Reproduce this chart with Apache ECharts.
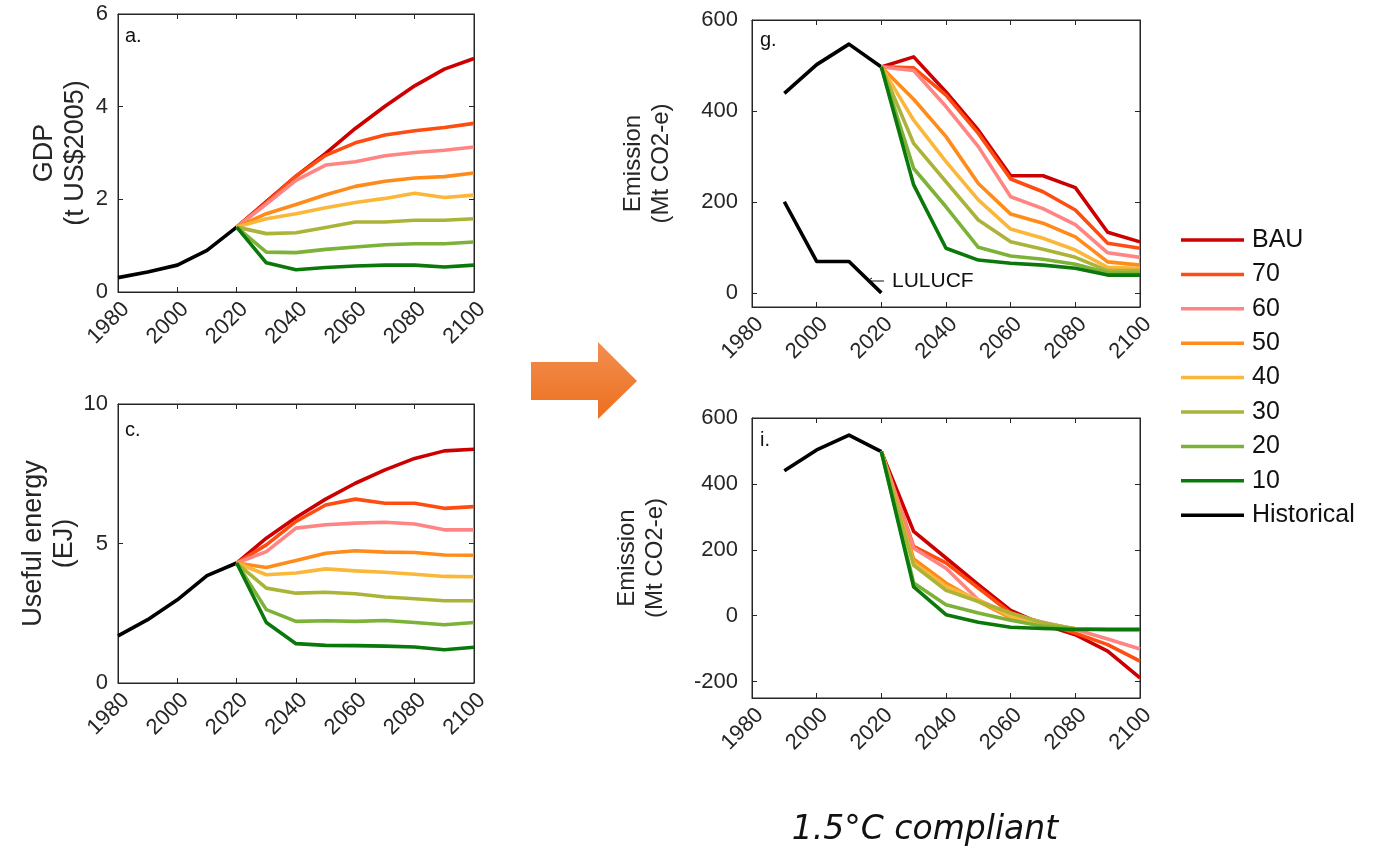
<!DOCTYPE html>
<html><head><meta charset="utf-8">
<script src="https://cdn.jsdelivr.net/npm/echarts@6/dist/echarts.min.js"></script>
<style>html,body{margin:0;padding:0;background:#fff}#c{width:1375px;height:853px}</style>
</head><body><div id="c"></div>
<script>
// ---------- DATA ----------
const yearsHistAC = [1980, 1990, 2000, 2010, 2020];
const yearsHistGI = [1990, 2000, 2010, 2020];
const yearsScen = [2020, 2030, 2040, 2050, 2060, 2070, 2080, 2090, 2100];
const scenarioNames = ['BAU', '70', '60', '50', '40', '30', '20', '10'];
const xTicks = [1980, 2000, 2020, 2040, 2060, 2080, 2100];

// a. GDP (t US$2005)
const gdpHist = [0.31, 0.43, 0.58, 0.90, 1.40];
const gdpBAU = [1.40, 1.95, 2.50, 2.99, 3.53, 4.01, 4.45, 4.81, 5.04];
const gdp70  = [1.40, 1.93, 2.50, 2.95, 3.22, 3.39, 3.48, 3.55, 3.64];
const gdp60  = [1.40, 1.90, 2.41, 2.74, 2.81, 2.94, 3.01, 3.06, 3.13];
const gdp50  = [1.40, 1.69, 1.89, 2.10, 2.28, 2.39, 2.46, 2.49, 2.57];
const gdp40  = [1.40, 1.58, 1.69, 1.82, 1.93, 2.02, 2.13, 2.04, 2.09];
const gdp30  = [1.40, 1.26, 1.28, 1.39, 1.51, 1.51, 1.55, 1.55, 1.58];
const gdp20  = [1.40, 0.86, 0.85, 0.92, 0.97, 1.02, 1.04, 1.04, 1.08];
const gdp10  = [1.40, 0.63, 0.48, 0.53, 0.56, 0.58, 0.58, 0.54, 0.58];

// c. Useful energy (EJ)
const ueHist = [1.69, 2.27, 2.98, 3.85, 4.30];
const ueBAU = [4.30, 5.19, 5.93, 6.59, 7.16, 7.64, 8.05, 8.32, 8.38];
const ue70  = [4.30, 4.95, 5.79, 6.38, 6.59, 6.44, 6.44, 6.26, 6.32];
const ue60  = [4.30, 4.71, 5.55, 5.67, 5.73, 5.76, 5.70, 5.49, 5.49];
const ue50  = [4.30, 4.14, 4.39, 4.65, 4.74, 4.69, 4.68, 4.59, 4.58];
const ue40  = [4.30, 3.88, 3.94, 4.09, 4.02, 3.97, 3.90, 3.82, 3.81];
const ue30  = [4.30, 3.40, 3.22, 3.25, 3.20, 3.08, 3.02, 2.95, 2.95];
const ue20  = [4.30, 2.63, 2.21, 2.23, 2.21, 2.24, 2.17, 2.09, 2.17];
const ue10  = [4.30, 2.17, 1.41, 1.35, 1.34, 1.32, 1.29, 1.19, 1.28];

// g. Emission (Mt CO2-e)
const emgHist = [439, 502, 547, 497];
const emgLULUCF = [201, 70, 70, 1];
const emgBAU = [497, 519, 442, 358, 258, 258, 232, 134, 113];
const emg70  = [497, 495, 435, 351, 251, 223, 183, 110, 99];
const emg60  = [497, 489, 410, 322, 212, 186, 151, 89, 79];
const emg50  = [497, 426, 344, 241, 174, 154, 124, 69, 62];
const emg40  = [497, 380, 289, 205, 141, 121, 95, 57, 55];
const emg30  = [497, 329, 245, 161, 113, 97, 79, 50, 50];
const emg20  = [497, 274, 190, 101, 82, 75, 64, 45, 44];
const emg10  = [497, 238, 99, 73, 66, 62, 55, 40, 40];

// i. Emission (Mt CO2-e)
const emiHist = [440, 503, 548, 498];
const emiBAU = [498, 256, 175, 94, 16, -27, -58, -108, -189];
const emi70  = [498, 210, 160, 84, 8, -22, -53, -88, -138];
const emi60  = [498, 205, 144, 48, 3, -20, -42, -71, -101];
const emi50  = [498, 172, 99, 43, -7, -27, -40, -42, -42];
const emi40  = [498, 160, 89, 48, -2, -25, -40, -42, -42];
const emi30  = [498, 153, 77, 43, 8, -22, -40, -42, -42];
const emi20  = [498, 99, 33, 8, -14, -32, -40, -42, -42];
const emi10  = [498, 87, 3, -20, -35, -39, -42, -42, -42];

const yTicksA = [0, 2, 4, 6];
const yTicksC = [0, 5, 10];
const yTicksG = [0, 200, 400, 600];
const yTicksI = [-200, 0, 200, 400, 600];

// ---------- STYLE ----------
const colors = {
  'BAU': '#CC0000', '70': '#FF4D12', '60': '#FF8585', '50': '#FF8C1A',
  '40': '#FBB73A', '30': '#ABB438', '20': '#7DB238', '10': '#0A780A', 'Historical': '#000000'
};
const axisColor = '#262626';
const FONT = 'Liberation Sans, Arial, sans-serif';

const grids = [
  { left: 118, top: 14, width: 356, height: 278 },
  { left: 118, top: 404, width: 356, height: 279 },
  { left: 752, top: 20, width: 388, height: 287 },
  { left: 752, top: 418, width: 388, height: 280 }
];
const yCfg = [
  { min: 0, max: 6, ticks: yTicksA, name: 'GDP\n(t US$2005)', nameGap: 27, nameSize: 27, margin: 10 },
  { min: 0, max: 10, ticks: yTicksC, name: 'Useful energy\n(EJ)', nameGap: 31, nameSize: 27, margin: 10 },
  { min: -30, max: 600, ticks: yTicksG, name: 'Emission\n(Mt CO2-e)', nameGap: 77, nameSize: 24, margin: 14 },
  { min: -250, max: 600, ticks: yTicksI, name: 'Emission\n(Mt CO2-e)', nameGap: 83, nameSize: 24, margin: 14 }
];

const xAxis = [], yAxis = [];
grids.forEach((g, i) => {
  xAxis.push({
    type: 'value', gridIndex: i, position: 'bottom', min: 1980, max: 2100, interval: 20,
    axisLine: { show: true, onZero: false, lineStyle: { color: axisColor, width: 1 } },
    axisTick: { show: true, inside: true, length: 5, lineStyle: { color: axisColor } },
    axisLabel: { rotate: 45, fontSize: 22, color: axisColor, fontFamily: FONT, margin: 6, verticalAlign: 'top',
      showMinLabel: true, showMaxLabel: true, formatter: v => String(v) },
    splitLine: { show: false }
  });
  xAxis.push({
    type: 'value', gridIndex: i, position: 'top', min: 1980, max: 2100, interval: 20,
    axisLine: { show: true, onZero: false, lineStyle: { color: axisColor, width: 1 } },
    axisTick: { show: true, inside: true, length: 5, lineStyle: { color: axisColor } },
    axisLabel: { show: false }, splitLine: { show: false }
  });
  const c = yCfg[i];
  yAxis.push({
    type: 'value', gridIndex: i, position: 'left', min: c.min, max: c.max,
    name: c.name, nameLocation: 'middle', nameGap: c.nameGap, nameRotate: 90,
    nameTextStyle: { fontSize: c.nameSize, color: axisColor, fontFamily: FONT, lineHeight: c.nameSize + 4 },
    axisLine: { show: true, onZero: false, lineStyle: { color: axisColor, width: 1 } },
    axisTick: { show: true, inside: true, length: 5, customValues: c.ticks, lineStyle: { color: axisColor } },
    axisLabel: { fontSize: 22, color: axisColor, fontFamily: FONT, margin: c.margin, customValues: c.ticks },
    splitLine: { show: false }
  });
  yAxis.push({
    type: 'value', gridIndex: i, position: 'right', min: c.min, max: c.max,
    axisLine: { show: true, onZero: false, lineStyle: { color: axisColor, width: 1 } },
    axisTick: { show: true, inside: true, length: 5, customValues: c.ticks, lineStyle: { color: axisColor } },
    axisLabel: { show: false, customValues: c.ticks }, splitLine: { show: false }
  });
});

function mk(panel, name, xs, ys, color, z) {
  return {
    type: 'line', name: name, xAxisIndex: panel * 2, yAxisIndex: panel * 2,
    data: xs.map((x, k) => [x, ys[k]]), symbol: 'none', z: z || 2,
    lineStyle: { color: color, width: 3.6, join: 'round' }, itemStyle: { color: color },
    emphasis: { disabled: true }
  };
}

const panelScen = [
  [gdpBAU, gdp70, gdp60, gdp50, gdp40, gdp30, gdp20, gdp10],
  [ueBAU, ue70, ue60, ue50, ue40, ue30, ue20, ue10],
  [emgBAU, emg70, emg60, emg50, emg40, emg30, emg20, emg10],
  [emiBAU, emi70, emi60, emi50, emi40, emi30, emi20, emi10]
];
const panelHist = [[yearsHistAC, gdpHist], [yearsHistAC, ueHist], [yearsHistGI, emgHist], [yearsHistGI, emiHist]];

const series = [];
panelHist.forEach((h, p) => series.push(mk(p, 'Historical', h[0], h[1], colors['Historical'], 2)));
series.push(mk(2, 'LULUCF', yearsHistGI, emgLULUCF, '#000000', 2));
panelScen.forEach((arr, p) => {
  arr.forEach((ys, k) => series.push(mk(p, scenarioNames[k], yearsScen, ys, colors[scenarioNames[k]], 3 + k)));
});

const panelLabel = (text, x, y) => ({
  type: 'text', x: x, y: y, z: 100,
  style: { text: text, fontSize: 20, fontFamily: FONT, fill: '#111', textAlign: 'left', textVerticalAlign: 'middle' }
});

const option = {
  animation: false,
  backgroundColor: '#ffffff',
  grid: grids.map(g => Object.assign({ show: true, borderColor: axisColor, borderWidth: 1, containLabel: false, outerBoundsMode: 'none' }, g)),
  xAxis: xAxis,
  yAxis: yAxis,
  legend: {
    orient: 'vertical', left: 1181, top: 227, padding: 0,
    data: scenarioNames.concat(['Historical']),
    icon: 'rect', itemWidth: 63, itemHeight: 3.5, itemGap: 8.4,
    textStyle: { fontSize: 25, fontFamily: FONT, color: '#111', lineHeight: 26, padding: [0, 0, 0, 3] },
    selectedMode: false
  },
  series: series,
  graphic: [
    panelLabel('a.', 125, 36),
    panelLabel('c.', 125, 430),
    panelLabel('g.', 760, 40),
    panelLabel('i.', 760, 440),
    {
      type: 'polyline', z: 100,
      shape: { points: [[872, 278], [867, 281], [872, 284], [867, 281], [884, 281]] },
      style: { stroke: '#111', lineWidth: 1, fill: null }
    },
    {
      type: 'text', x: 892, y: 281, z: 100,
      style: { text: 'LULUCF', fontSize: 21, fontFamily: FONT, fill: '#111', textAlign: 'left', textVerticalAlign: 'middle' }
    },
    {
      type: 'polygon', z: 100,
      shape: { points: [[531, 362], [598, 362], [598, 342], [637, 381], [598, 419], [598, 400], [531, 400]] },
      style: {
        fill: { type: 'linear', x: 0, y: 0, x2: 0, y2: 1, colorStops: [{ offset: 0, color: '#F28E50' }, { offset: 1, color: '#EC6F1E' }] }
      }
    },
    {
      type: 'text', x: 925, y: 830, z: 100,
      style: { text: '1.5\u00B0C compliant', fontSize: 33, fontStyle: 'italic', fontFamily: 'DejaVu Sans, sans-serif', fill: '#111', textAlign: 'center', textVerticalAlign: 'middle' }
    }
  ]
};

const chart = echarts.init(document.getElementById('c'), null, { renderer: 'canvas' });
chart.setOption(option);
</script>
</body></html>
